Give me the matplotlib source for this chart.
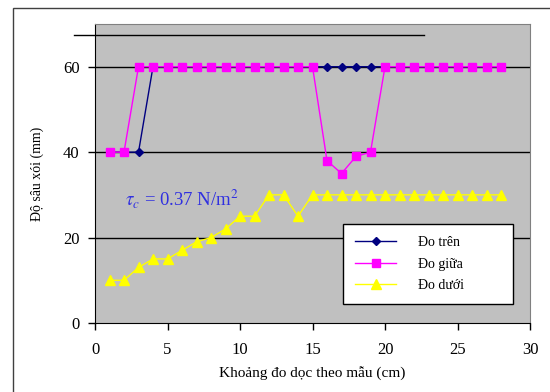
import matplotlib.pyplot as plt
from matplotlib.lines import Line2D
from matplotlib.patches import Rectangle

DPI = 100
plt.rcParams['font.family'] = ['Liberation Serif', 'DejaVu Serif']
plt.rcParams['mathtext.fontset'] = 'stix'

# Dữ liệu
x_pos = list(range(1, 29))
do_tren = [40, 40, 40] + [60] * 25
do_giua = [40, 40] + [60] * 13 + [38, 35, 39, 40] + [60] * 9
do_duoi = [10, 10, 13, 15, 15, 17, 19, 20, 22, 25, 25, 30, 30, 25, 30] + [30] * 13
labels = ['Đo trên', 'Đo giữa', 'Đo dưới']
x_ticks = [0, 5, 10, 15, 20, 25, 30]
y_ticks = [0, 20, 40, 60]

fig = plt.figure(figsize=(550 / DPI, 392 / DPI), dpi=DPI)
ax = fig.add_axes([95 / 550, 69 / 392, 435 / 550, 299 / 392])
ax.set_facecolor('#c0c0c0')

ax.plot(x_pos, do_tren, color='#000080', lw=1, marker='D', ms=4.5, label=labels[0])
ax.plot(x_pos, do_giua, color='#ff00ff', lw=1, marker='s', ms=5.5, label=labels[1])
ax.plot(x_pos, do_duoi, color='#ffff00', lw=1, marker='^', ms=7, label=labels[2])

ax.set_xlim(0, 30)
ax.set_ylim(0, 70)
ax.set_xticks(x_ticks)
ax.set_yticks(y_ticks)
for y in y_ticks[1:]:
    ax.axhline(y, color='black', lw=1, zorder=1)

for s in ['top', 'right']:
    ax.spines[s].set_color('#808080')
for s in ['left', 'bottom']:
    ax.spines[s].set_color('black')
ax.tick_params(axis='both', length=5, width=1, labelsize=12, direction='out')
ax.tick_params(axis='x', pad=9)
ax.tick_params(axis='y', pad=6)

ax.set_xlabel('Khoảng đo dọc theo mẫu (cm)', fontsize=11, labelpad=6)
ax.set_ylabel('Độ sâu xói (mm)', fontsize=10, labelpad=14)

ax.text(2.1, 27.5, r'$\tau_c$ = 0.37 N/m$^2$', color='#3030e0', fontsize=13.5)

leg = ax.legend(loc='upper left', bbox_to_anchor=(0.57, 0.07, 0.39, 0.262),
                mode='expand', fontsize=10, frameon=True, fancybox=False,
                edgecolor='black', framealpha=1, handlelength=2.9,
                handletextpad=1.6, labelspacing=0.6, borderpad=0.9,
                borderaxespad=0)
leg.get_frame().set_linewidth(1)

# Đường thừa phía trên và khung ngoài
fig.add_artist(Line2D([74 / 550, 424 / 550], [1 - 35 / 392] * 2, color='black', lw=1))
fig.add_artist(Rectangle((13 / 550, -0.05), 1.1, 1.05 - 8 / 392, fill=False,
                         edgecolor='#404040', lw=1))

plt.savefig('out.png', dpi=DPI)
plt.close()
